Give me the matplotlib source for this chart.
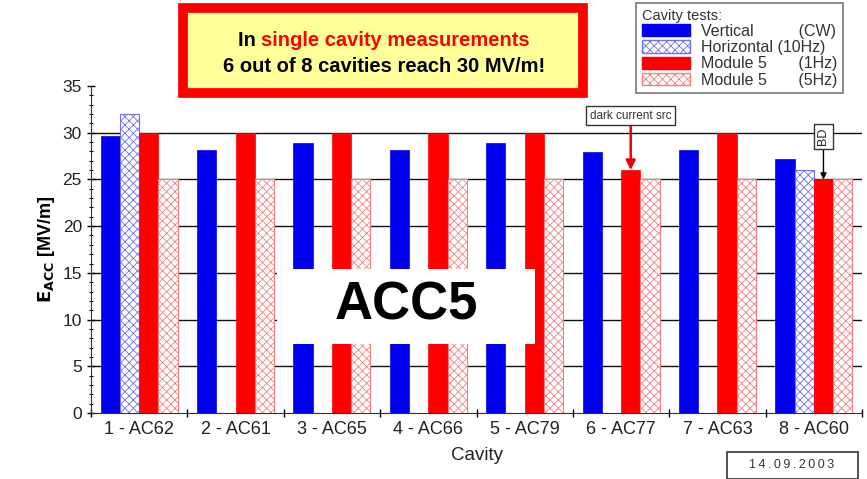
import matplotlib
matplotlib.use("Agg")
import matplotlib.pyplot as plt
import numpy as np
from matplotlib.patches import Patch, Rectangle

plt.rcParams['font.family'] = ['Liberation Sans', 'DejaVu Sans']
plt.rcParams['hatch.linewidth'] = 0.6

cavities = ["1 - AC62", "2 - AC61", "3 - AC65", "4 - AC66", "5 - AC79", "6 - AC77", "7 - AC63", "8 - AC60"]
vertical_cw = [29.7, 28.1, 28.9, 28.1, 28.9, 27.9, 28.2, 27.2]
horizontal_10hz = [32.0, None, None, None, None, None, None, 26.0]
module5_1hz = [30.0, 30.0, 30.0, 30.0, 30.0, 26.0, 30.0, 25.0]
module5_5hz = [25.0, 25.0, 25.0, 25.0, 25.0, 25.0, 25.0, 25.0]

W, H = 867, 479
fig = plt.figure(figsize=(W / 100, H / 100), dpi=100)
ax = fig.add_axes([91 / W, 1 - 413 / H, 771 / W, 327 / H])

x = np.arange(len(cavities))
w = 0.2

def clean(vals):
    return [np.nan if v is None else v for v in vals]

ax.bar(x - 0.3, vertical_cw, w, color='#0000ee', edgecolor='#0000ee', linewidth=0.5, zorder=3)
ax.bar(x - 0.1, clean(horizontal_10hz), w, color='white', edgecolor='#6f6ff0', hatch='xxxx', linewidth=0.8, zorder=3)
ax.bar(x + 0.1, module5_1hz, w, color='#ff0000', edgecolor='#ff0000', linewidth=0.5, zorder=3)
ax.bar(x + 0.3, module5_5hz, w, color='white', edgecolor='#f08080', hatch='xxxx', linewidth=0.8, zorder=3)

ax.set_xlim(-0.5, 7.5)
ax.set_ylim(0, 35)
ax.set_yticks(np.arange(0, 36, 5))
ax.set_yticks(np.arange(0, 36, 1), minor=True)
ax.set_xticks(x)
ax.set_xticklabels(cavities, fontsize=13, color='#222222')
ax.set_xticks(np.arange(-0.5, 8, 1), minor=True)
ax.tick_params(axis='x', which='major', length=0, pad=6)
ax.tick_params(axis='x', which='minor', length=6, width=1, direction='inout')
ax.tick_params(axis='y', which='major', length=6, width=1, labelsize=12.5, labelcolor='#222222', direction='inout')
ax.tick_params(axis='y', which='minor', length=3, width=0.8, direction='inout')
for yv in range(5, 35, 5):
    ax.axhline(yv, color='#111111', linewidth=1.0, zorder=1)
for s in ['top', 'right']:
    ax.spines[s].set_visible(False)
for s in ['left', 'bottom']:
    ax.spines[s].set_color('#333333')

ax.set_xlabel("Cavity", fontsize=13.5, color='#222222', labelpad=6)
ax.set_ylabel(r"$\mathbf{E}_{\mathbf{ACC}}$ [MV/m]", fontsize=13, fontweight='bold', labelpad=4)

# Annotations
ax.annotate("dark current src", xy=(5.1, 26.0), xytext=(5.1, 31.8),
            ha='center', va='center', fontsize=8.5, color='#333333',
            bbox=dict(boxstyle='square,pad=0.3', fc='white', ec='#333333', lw=1),
            arrowprops=dict(arrowstyle='-|>', color='#ee0000', lw=1.8, mutation_scale=14, shrinkA=0, shrinkB=0))
ax.annotate("BD", xy=(7.1, 25.0), xytext=(7.1, 29.6),
            ha='center', va='center', fontsize=9, rotation=90, color='#222222',
            bbox=dict(boxstyle='square,pad=0.3', fc='white', ec='#333333', lw=1),
            arrowprops=dict(arrowstyle='-|>', color='black', lw=1, shrinkA=0, shrinkB=0))

# ACC5 label box
fig.patches.append(Rectangle((277 / W, 1 - 344 / H), 258 / W, 75 / H, transform=fig.transFigure,
                             fc='white', ec='none', zorder=8))
fig.text(406 / W, 1 - 306 / H, "ACC5", ha='center', va='center',
         fontsize=38, fontweight='bold', color='black', zorder=9)

# Title box
fig.patches.append(Rectangle((183 / W, 1 - 93 / H), 400 / W, 85 / H,
                             transform=fig.transFigure, fc='#ffff99', ec='#ff0000', lw=7, zorder=5))
fig.canvas.draw()
r = fig.canvas.get_renderer()
tfs = 14.5
t1 = fig.text(0, 1 - 41 / H, "In ", fontsize=tfs, fontweight='bold', ha='left', va='center', color='black', zorder=6)
t2 = fig.text(0, 1 - 41 / H, "single cavity measurements", fontsize=tfs, fontweight='bold',
              ha='left', va='center', color='#ff0000', zorder=6)
w1 = t1.get_window_extent(r).width
w2 = t2.get_window_extent(r).width
x0 = 384 - (w1 + w2) / 2
t1.set_x(x0 / W)
t2.set_x((x0 + w1) / W)
fig.text(384 / W, 1 - 66 / H, "6 out of 8 cavities reach 30 MV/m!", fontsize=tfs, fontweight='bold',
         ha='center', va='center', color='black', zorder=6)

# Legend
handles = [Patch(fc='#0000ee', ec='#0000ee'),
           Patch(fc='white', ec='#6f6ff0', hatch='xxxx'),
           Patch(fc='#ff0000', ec='#ff0000'),
           Patch(fc='white', ec='#f08080', hatch='xxxx')]
labels = ["Vertical          (CW)", "Horizontal (10Hz)", "Module 5       (1Hz)", "Module 5       (5Hz)"]
leg = fig.legend(handles, labels, title="Cavity tests:", loc='upper left',
                 bbox_to_anchor=(636 / W, 1 - 3 / H), fontsize=11.5, title_fontsize=10.5,
                 frameon=True, fancybox=False, edgecolor='#555555', labelspacing=0.08,
                 handlelength=3.0, handleheight=0.8, borderpad=0.35, handletextpad=0.7,
                 borderaxespad=0)
leg._legend_box.align = 'left'
leg.get_frame().set_linewidth(1.2)
for t in leg.get_texts():
    t.set_color('#333333')
leg.get_title().set_color('#333333')

# Date box
fig.patches.append(Rectangle((727 / W, 0.0), 131 / W, 27 / H, transform=fig.transFigure,
                             fc='white', ec='#333333', lw=1.2, zorder=5))
fig.text(792 / W, 1 - 465 / H, "1 4 . 0 9 . 2 0 0 3".replace(' ', '\u2009'), fontsize=9, ha='center', va='center',
         color='#333333', zorder=6)

fig.savefig("out.png", dpi=100)
